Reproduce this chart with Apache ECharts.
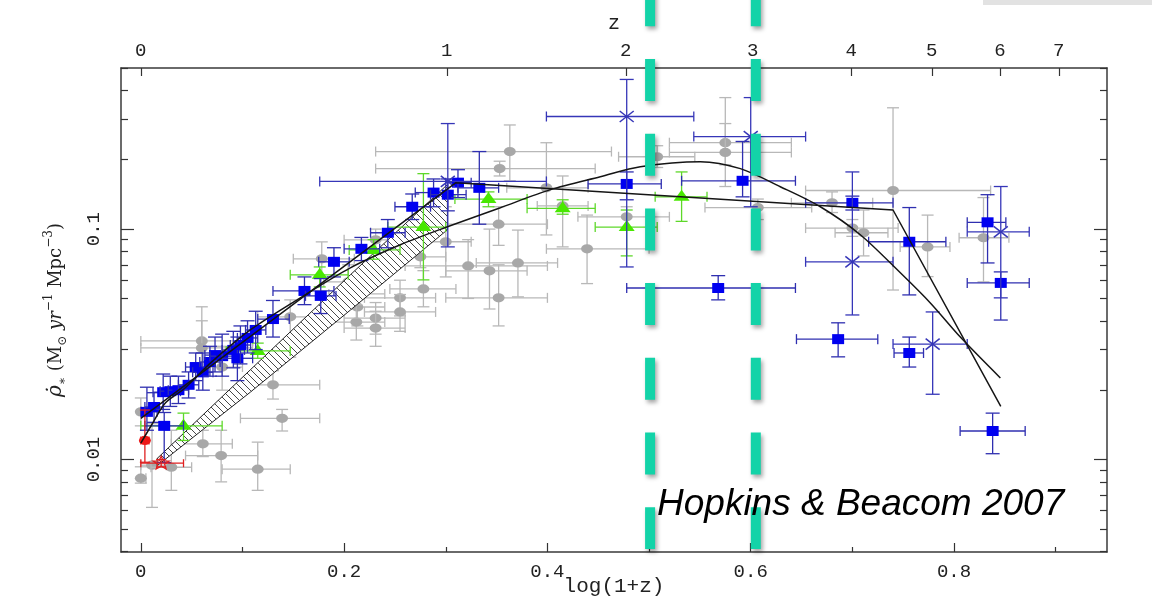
<!DOCTYPE html>
<html><head><meta charset="utf-8">
<script src="https://cdn.jsdelivr.net/npm/echarts@6/dist/echarts.min.js"></script>
<style>html,body{margin:0;padding:0;background:#fff}#c{width:1152px;height:598px}</style>
</head><body><div id="c"></div>
<script>
// ---- axis ticks ----
const xTicks = [0, 0.2, 0.4, 0.6, 0.8];
const xMinorTicks = [0.1, 0.3, 0.5, 0.7, 0.9];
const zTicks = [0, 1, 2, 3, 4, 5, 6, 7];
const yTicks = [0.01, 0.1];
const yMinorTicks = [0.004, 0.005, 0.006, 0.007, 0.008, 0.009, 0.02, 0.03, 0.04, 0.05, 0.06, 0.07, 0.08, 0.09, 0.2, 0.3, 0.4, 0.5];
// vertical dashed markers, log(1+z)
const dashX = [0.501, 0.605];

// ---- data: [log(1+z), rho, xLo, xHi, yLo, yHi] ----
const grayPts = [
 [0.000,0.0083,0.000,0.005,0.0079,0.0093],
 [0.011,0.00945,0.000,0.025,0.0062,0.0143],
 [0.030,0.00926,0.010,0.050,0.00735,0.0134],
 [0.060,0.0327,0.000,0.110,0.025,0.046],
 [0.060,0.0305,0.000,0.110,0.024,0.040],
 [0.061,0.0117,0.030,0.090,0.0103,0.0134],
 [0.079,0.0104,0.044,0.115,0.0080,0.0134],
 [0.115,0.00908,0.080,0.147,0.00735,0.0119],
 [0.130,0.0211,0.098,0.176,0.0183,0.0243],
 [0.139,0.0151,0.098,0.176,0.0133,0.0165],
 [0.080,0.0252,0.060,0.100,0.020,0.031],
 [0.147,0.0416,0.115,0.180,0.0278,0.0493],
 [0.178,0.0743,0.150,0.210,0.062,0.088],
 [0.204,0.0590,0.180,0.230,0.050,0.070],
 [0.212,0.0523,0.185,0.240,0.045,0.060],
 [0.213,0.0459,0.190,0.240,0.038,0.054],
 [0.212,0.0395,0.185,0.240,0.033,0.047],
 [0.231,0.0411,0.200,0.260,0.035,0.048],
 [0.231,0.0372,0.200,0.260,0.031,0.044],
 [0.231,0.0898,0.200,0.260,0.080,0.100],
 [0.255,0.0503,0.220,0.290,0.042,0.060],
 [0.255,0.0437,0.220,0.290,0.036,0.052],
 [0.278,0.0550,0.245,0.310,0.046,0.066],
 [0.275,0.0758,0.250,0.300,0.068,0.085],
 [0.300,0.0881,0.275,0.325,0.062,0.125],
 [0.322,0.0692,0.260,0.400,0.050,0.090],
 [0.343,0.0659,0.300,0.380,0.045,0.100],
 [0.371,0.0713,0.330,0.410,0.0508,0.099],
 [0.352,0.0503,0.300,0.400,0.038,0.070],
 [0.352,0.105,0.300,0.400,0.085,0.125],
 [0.363,0.217,0.231,0.463,0.162,0.283],
 [0.353,0.183,0.231,0.447,0.170,0.197],
 [0.399,0.151,0.360,0.440,0.0943,0.237],
 [0.415,0.126,0.390,0.440,0.0837,0.170],
 [0.439,0.0821,0.399,0.500,0.058,0.115],
 [0.478,0.113,0.430,0.520,0.100,0.125],
 [0.508,0.206,0.470,0.545,0.185,0.230],
 [0.575,0.237,0.520,0.640,0.190,0.372],
 [0.575,0.215,0.520,0.640,0.153,0.287],
 [0.607,0.124,0.555,0.660,0.110,0.135],
 [0.680,0.130,0.640,0.720,0.118,0.145],
 [0.700,0.101,0.654,0.745,0.093,0.110],
 [0.711,0.0964,0.683,0.735,0.0765,0.121],
 [0.740,0.147,0.654,0.836,0.0544,0.336],
 [0.774,0.0837,0.747,0.796,0.0622,0.115],
 [0.829,0.0917,0.805,0.854,0.059,0.137],
 [0.000,0.0161,0.000,0.005,0.014,0.0185]
];
const bluePts = [
 [0.006,0.0161,0.000,0.016,0.0134,0.0206],
 [0.013,0.0169,0.004,0.022,0.0145,0.0195],
 [0.022,0.0196,0.012,0.032,0.0165,0.0235],
 [0.029,0.0198,0.019,0.039,0.0170,0.0230],
 [0.037,0.0200,0.027,0.047,0.0175,0.0230],
 [0.047,0.0211,0.037,0.057,0.0185,0.0240],
 [0.054,0.0252,0.044,0.064,0.0220,0.0290],
 [0.061,0.0239,0.051,0.071,0.0200,0.0290],
 [0.068,0.0265,0.058,0.078,0.0230,0.0310],
 [0.073,0.0284,0.063,0.083,0.0240,0.0340],
 [0.080,0.0281,0.068,0.092,0.0230,0.0350],
 [0.091,0.0299,0.080,0.102,0.0250,0.0360],
 [0.095,0.0275,0.080,0.110,0.0220,0.0340],
 [0.098,0.0314,0.088,0.108,0.0260,0.0380],
 [0.105,0.0337,0.095,0.115,0.0290,0.0400],
 [0.113,0.0365,0.103,0.123,0.0300,0.0440],
 [0.130,0.0407,0.115,0.146,0.0340,0.0490],
 [0.161,0.0539,0.130,0.190,0.0470,0.0620],
 [0.177,0.0513,0.162,0.192,0.0430,0.0610],
 [0.190,0.0721,0.175,0.205,0.0620,0.0830],
 [0.217,0.0821,0.200,0.235,0.0730,0.0920],
 [0.243,0.0964,0.226,0.260,0.0830,0.1100],
 [0.267,0.125,0.250,0.285,0.110,0.142],
 [0.288,0.144,0.270,0.300,0.125,0.165],
 [0.302,0.141,0.285,0.320,0.120,0.165],
 [0.312,0.159,0.300,0.325,0.137,0.181],
 [0.333,0.151,0.312,0.352,0.105,0.217],
 [0.478,0.157,0.440,0.512,0.134,0.177],
 [0.592,0.162,0.532,0.644,0.138,0.240],
 [0.568,0.0555,0.478,0.644,0.0493,0.0628],
 [0.700,0.130,0.654,0.740,0.121,0.139],
 [0.756,0.0881,0.716,0.792,0.0518,0.124],
 [0.833,0.107,0.813,0.851,0.0713,0.141],
 [0.846,0.0584,0.813,0.874,0.0403,0.0652],
 [0.686,0.0333,0.645,0.725,0.0279,0.0392],
 [0.756,0.0290,0.741,0.770,0.0252,0.0340],
 [0.838,0.0133,0.806,0.870,0.0106,0.0159],
 [0.023,0.0140,0.004,0.042,0.0097,0.0160]
];
const crossPts = [
 [0.478,0.308,0.399,0.544,0.0685,0.446],
 [0.600,0.252,0.544,0.654,0.125,0.372],
 [0.700,0.0721,0.654,0.740,0.0424,0.177],
 [0.779,0.0317,0.740,0.813,0.0192,0.0437],
 [0.846,0.0973,0.813,0.874,0.0503,0.153],
 [0.302,0.161,0.176,0.399,0.0837,0.287]
];
const greenPts = [
 [0.042,0.0140,0.000,0.080,0.0121,0.0159],
 [0.115,0.0296,0.084,0.147,0.0275,0.0320],
 [0.176,0.0633,0.147,0.204,0.0561,0.0685],
 [0.229,0.0812,0.205,0.255,0.0740,0.0900],
 [0.278,0.102,0.243,0.300,0.0602,0.174],
 [0.342,0.135,0.309,0.380,0.125,0.145],
 [0.415,0.123,0.380,0.447,0.116,0.134],
 [0.478,0.102,0.447,0.508,0.0765,0.121],
 [0.532,0.138,0.506,0.557,0.108,0.177]
];
const redCircle = [[0.004,0.0121,0.000,0.008,0.00973,0.0164]];
const redStar = [[0.020,0.00964,0.000,0.042,0.0093,0.0100]];

// ---- fits ----
const smoothX = [0.0,0.0113,0.0241,0.0438,0.0684,0.1077,0.1569,0.2061,0.2553,0.3016,0.3537,0.4029,0.4520,0.4914,0.5504,0.5898,0.6291,0.6685,0.7078,0.7472,0.7767,0.8062,0.8456];
const smoothY = [0.01177,0.0143,0.0176,0.0205,0.0262,0.0365,0.0503,0.0679,0.0855,0.1023,0.1238,0.1483,0.1688,0.1866,0.1962,0.1829,0.1527,0.1250,0.0945,0.0646,0.0478,0.0340,0.0226];
const pieceX = [0.0, 0.310, 0.740, 0.846];
const pieceY = [0.0151, 0.159, 0.121, 0.0170];
const bandX = [0.016, 0.1077, 0.2061, 0.3016];
const bandUpper = [0.0101, 0.0245, 0.0633, 0.156];
const bandLower = [0.0094, 0.0196, 0.0445, 0.0993];

// hatch pattern
const hatch = document.createElement('canvas');
hatch.width = 7; hatch.height = 7;
(function(){const g=hatch.getContext('2d');g.fillStyle='#fff';g.fillRect(0,0,7,7);g.strokeStyle='#333';g.lineWidth=0.9;
 g.beginPath();g.moveTo(-1,-1);g.lineTo(8,8);g.moveTo(-1,6);g.lineTo(1,8);g.moveTo(6,-1);g.lineTo(8,1);g.stroke();})();

function L(x1,y1,x2,y2,st){return {type:'line',shape:{x1,y1,x2,y2},style:st};}
function marker(shape,c,fill,stroke){
  const [cx,cy]=c;
  if(shape==='square') return {type:'rect',shape:{x:cx-6,y:cy-5,width:12,height:10},style:{fill}};
  if(shape==='ellipse') return {type:'circle',x:cx,y:cy,scaleX:1.3,shape:{cx:0,cy:0,r:4.6},style:{fill}};
  if(shape==='triangle') return {type:'polygon',shape:{points:[[cx,cy-7],[cx-8,cy+4],[cx+8,cy+4]]},style:{fill}};
  if(shape==='cross') return {type:'group',children:[
     L(cx-7,cy-5.5,cx+7,cy+5.5,{stroke,lineWidth:1.5}),L(cx-7,cy+5.5,cx+7,cy-5.5,{stroke,lineWidth:1.5})]};
  if(shape==='star'){const pts=[];for(let i=0;i<10;i++){const a=-Math.PI/2+i*Math.PI/5;const r=i%2?3:7;pts.push([cx+1.2*r*Math.cos(a),cy+r*Math.sin(a)]);}
     return {type:'polygon',shape:{points:pts},style:{fill:'none',stroke,lineWidth:1.3}};}
  return null;
}
function errRender(shape,barColor,fill,capX,capY){
  return function(params,api){
    const x=api.value(0),y=api.value(1);
    const c=api.coord([x,y]);
    const xl=api.coord([api.value(2),y])[0], xr=api.coord([api.value(3),y])[0];
    const yb=api.coord([x,api.value(4)])[1], yt=api.coord([x,api.value(5)])[1];
    const st={stroke:barColor,lineWidth:1.3};
    const ch=[];
    if(xr-xl>1){ch.push(L(xl,c[1],xr,c[1],st),L(xl,c[1]-capY,xl,c[1]+capY,st),L(xr,c[1]-capY,xr,c[1]+capY,st));}
    if(yb-yt>1){ch.push(L(c[0],yt,c[0],yb,st),L(c[0]-capX,yt,c[0]+capX,yt,st),L(c[0]-capX,yb,c[0]+capX,yb,st));}
    ch.push(marker(shape,c,fill,barColor));
    return {type:'group',children:ch};
  };
}
function errSeries(data,shape,barColor,fill,z,capX,capY){
  return {type:'custom',data,z,renderItem:errRender(shape,barColor,fill,capX||6,capY||5),encode:{x:0,y:1},silent:true};
}

const serif='"Liberation Mono", monospace';
const frame={show:true,onZero:false,lineStyle:{color:'#3a3a3a',width:1.5}};
const noLine={show:false,onZero:false};
const xBase={type:'value',min:-0.0195,max:0.9505,splitLine:{show:false}};
const yBase={type:'log',min:0.00397,max:0.5,splitLine:{show:false},logBase:10};

const option={
  animation:false,
  backgroundColor:'#fff',
  grid:{left:121,right:45,top:68,bottom:46,containLabel:false,outerBoundsMode:'none'},
  xAxis:[
    Object.assign({},xBase,{position:'bottom',axisLine:frame,
      axisTick:{inside:true,length:9,customValues:xTicks,lineStyle:{color:'#333',width:1.2}},
      axisLabel:{customValues:xTicks,formatter:v=>v===0?'0':v.toFixed(1),fontFamily:serif,fontSize:19,color:'#222',margin:10},
      name:'log(1+z)',nameLocation:'middle',nameGap:34,nameMoveOverlap:false,
      nameTextStyle:{fontFamily:serif,fontSize:21,color:'#222',verticalAlign:'middle'}}),
    Object.assign({},xBase,{position:'bottom',axisLine:noLine,
      axisTick:{inside:true,length:5,customValues:xMinorTicks,lineStyle:{color:'#333',width:1.2}},axisLabel:{show:false}}),
    Object.assign({},xBase,{position:'top',axisLine:frame,
      axisTick:{inside:true,length:8,customValues:zTicks.map(z=>Math.log10(1+z)),lineStyle:{color:'#333',width:1.2}},
      axisLabel:{customValues:zTicks.map(z=>Math.log10(1+z)),formatter:v=>String(Math.round(Math.pow(10,v)-1)),fontFamily:serif,fontSize:19,color:'#222',margin:8},
      name:'z',nameLocation:'middle',nameGap:34,nameTextStyle:{fontFamily:serif,fontSize:20,color:'#222'}})
  ],
  yAxis:[
    Object.assign({},yBase,{position:'left',axisLine:frame,
      axisTick:{inside:true,length:13,customValues:yTicks,lineStyle:{color:'#333',width:1.2}},
      axisLabel:{customValues:yTicks,rotate:90,align:'center',verticalAlign:'middle',
        formatter:v=>String(Math.round(v*1000)/1000),fontFamily:serif,fontSize:19,color:'#222',margin:27},
      name:'{r|ρ̇}{sub|∗} {n|(M}{sub|⊙}{n| }{i|yr}{sup|−1}{n| Mpc}{sup|−3}{n|)}',
      nameLocation:'middle',nameRotate:90,nameGap:52,
      nameTextStyle:{fontFamily:'DejaVu Serif',fontSize:18,color:'#222',
        rich:{n:{fontFamily:'DejaVu Serif',fontSize:18,lineHeight:26,color:'#222'},
              r:{fontFamily:'DejaVu Serif',fontStyle:'italic',fontSize:20,lineHeight:26,color:'#222'},
              i:{fontFamily:'DejaVu Serif',fontStyle:'italic',fontSize:18,lineHeight:26,color:'#222'},
              sub:{fontFamily:'DejaVu Serif',fontSize:12,lineHeight:14,verticalAlign:'bottom',color:'#222'},
              sup:{fontFamily:'DejaVu Serif',fontSize:12,lineHeight:14,verticalAlign:'top',color:'#222'}}}}),
    Object.assign({},yBase,{position:'left',axisLine:noLine,
      axisTick:{inside:true,length:7,customValues:yMinorTicks,lineStyle:{color:'#333',width:1.2}},axisLabel:{show:false}}),
    Object.assign({},yBase,{position:'right',axisLine:frame,
      axisTick:{inside:true,length:13,customValues:yTicks,lineStyle:{color:'#333',width:1.2}},axisLabel:{show:false}}),
    Object.assign({},yBase,{position:'right',axisLine:noLine,
      axisTick:{inside:true,length:7,customValues:yMinorTicks,lineStyle:{color:'#333',width:1.2}},axisLabel:{show:false}})
  ],
  graphic:[
    {type:'rect',shape:{x:983,y:0,width:169,height:5},style:{fill:'#e2e2e2'},z:1},
    {type:'text',left:657,top:486,z:20,style:{text:'Hopkins & Beacom 2007',font:'italic 37px "Liberation Sans", Arial, sans-serif',fill:'#000'}}
  ],
  series:[
    errSeries(grayPts,'ellipse','#b8b8b8','#a8a8a8',2,6,5),
    {type:'custom',z:3,silent:true,data:[[bandX[0],bandUpper[0]]],encode:{x:0,y:1},
      renderItem:function(params,api){
        const pts=[];
        for(let i=0;i<bandX.length;i++) pts.push(api.coord([bandX[i],bandUpper[i]]));
        for(let i=bandX.length-1;i>=0;i--) pts.push(api.coord([bandX[i],bandLower[i]]));
        return {type:'polygon',shape:{points:pts},style:{fill:{image:hatch,repeat:'repeat'},stroke:'#222',lineWidth:1}};
      }},
    errSeries(greenPts,'triangle','#5ed82a','#48e800',4,6,5),
    errSeries(bluePts,'square','#2f2fb0','#0000f0',5,7,5),
    errSeries(crossPts,'cross','#3636b8','#3636b8',5,7,5),
    errSeries(redCircle,'ellipse','#e02020','#ee1818',6,5,4),
    errSeries(redStar,'star','#e02020','none',6,5,4),
    {type:'line',z:7,silent:true,data:smoothX.map((x,i)=>[x,smoothY[i]]),smooth:0.3,showSymbol:false,symbol:'none',lineStyle:{color:'#151515',width:1.5}},
    {type:'line',z:7,silent:true,data:pieceX.map((x,i)=>[x,pieceY[i]]),showSymbol:false,symbol:'none',lineStyle:{color:'#151515',width:1.5}},
    {type:'custom',z:10,silent:true,data:dashX.map(v=>[v,0.1]),encode:{x:0,y:1},
      renderItem:function(params,api){
        const x=api.coord([api.value(0),0.1])[0];
        const bottom=params.coordSys.y+params.coordSys.height;
        return {type:'line',shape:{x1:x,y1:-15.7,x2:x,y2:bottom-3},
          style:{stroke:'#13d3a8',lineWidth:10,lineDash:[42,32.7],shadowBlur:4,shadowColor:'rgba(0,0,0,0.35)',shadowOffsetX:2,shadowOffsetY:3}};
      }}
  ]
};
const chart=echarts.init(document.getElementById('c'));
chart.setOption(option);
</script></body></html>
